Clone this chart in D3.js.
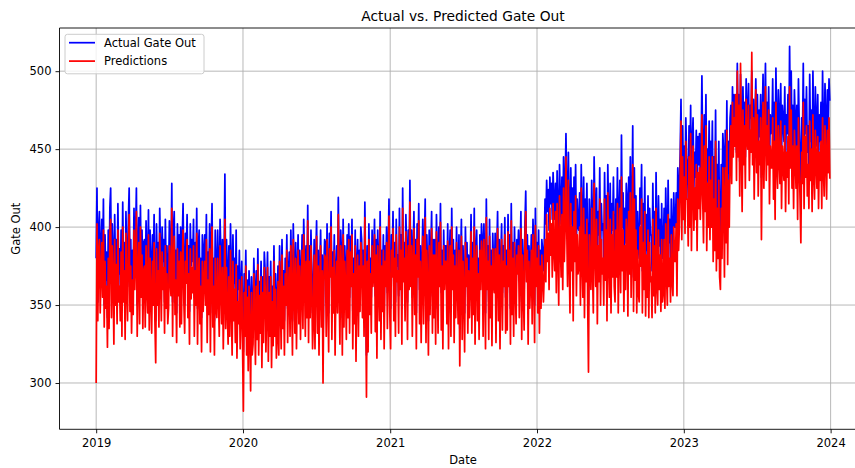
<!DOCTYPE html>
<html>
<head>
<meta charset="utf-8">
<script src="https://cdn.jsdelivr.net/npm/d3@7"></script>
<style>
  body { margin: 0; background: #fff; }
  svg { display: block; font-family: "DejaVu Sans", sans-serif; }
</style>
</head>
<body>
<svg id="chart" width="855" height="468"></svg>
<script>
// Gate out series, one value every second day starting from startDate
const startDate = "2019-01-01";
const stepDays = 2;

const actualGateOut = [
  380,425,352,398,410,361,388,405,372,418,350,395,366,384,342,
  398,358,412,425,366,402,385,348,408,375,392,355,415,370,386,
  362,398,352,416,372,390,345,410,380,362,404,425,368,392,350,
  385,365,412,378,395,425,350,388,406,360,414,372,398,356,390,
  392,358,404,380,368,411,356,398,376,350,395,372,408,362,340,
  402,372,390,355,412,384,362,400,378,392,352,405,370,388,360,
  368,404,385,375,428,352,398,410,366,385,345,402,378,395,358,
  400,360,392,415,372,350,396,382,408,364,388,346,402,375,392,
  378,405,355,390,370,412,348,386,398,360,380,342,395,368,385,
  395,372,408,350,384,366,402,345,390,415,358,380,340,398,370,
  365,398,376,352,405,384,360,392,346,378,434,358,392,370,350,
  388,355,402,372,346,395,364,380,352,398,340,375,360,385,348,
  360,378,345,320,370,352,385,340,366,330,372,355,318,368,342,
  345,380,358,336,372,350,386,340,365,355,378,332,368,348,384,
  372,342,360,384,335,368,352,378,330,362,346,388,352,370,338,
  350,375,338,388,360,345,392,356,372,340,380,362,395,348,370,
  384,352,398,366,340,402,375,355,390,345,372,395,360,385,350,
  370,395,358,405,380,352,388,365,414,350,388,365,398,372,345,
  362,392,345,380,404,356,385,340,375,398,358,382,322,375,392,
  390,355,402,368,345,396,378,410,352,384,366,395,340,372,388,
  366,419,372,350,398,382,342,405,360,388,372,350,395,365,402,
  355,394,372,405,346,380,360,398,338,376,392,352,385,368,400,
  392,365,385,352,416,372,318,388,345,402,366,380,355,398,372,
  380,405,356,392,340,398,374,362,410,350,385,368,395,345,388,
  372,400,358,385,418,366,348,395,378,410,362,390,352,405,375,
  382,356,412,370,395,348,425,375,390,362,408,385,352,398,370,
  430,372,398,355,385,410,366,392,345,402,378,415,360,388,350,
  376,405,360,388,418,350,395,372,340,398,365,385,410,356,392,
  365,392,348,408,380,356,400,372,415,358,385,345,398,370,388,
  388,362,402,345,380,398,355,412,370,392,350,385,365,400,372,
  360,395,335,378,405,352,388,368,345,400,372,390,355,382,365,
  375,408,356,390,366,412,348,385,398,362,380,350,395,370,402,
  392,355,402,378,345,418,370,388,352,405,365,385,348,396,375,
  368,396,350,385,410,362,392,345,380,402,358,388,372,406,355,
  385,358,408,372,395,348,415,366,390,355,400,375,362,392,380,
  398,365,385,410,352,392,370,358,402,423,375,395,360,388,370,
  376,395,362,405,385,350,412,372,390,368,398,355,385,370,392,
  385,372,390,418,402,430,410,424,398,432,415,428,405,435,418,
  405,428,395,436,412,388,440,418,402,432,395,445,410,425,460,
  420,395,448,410,385,438,402,425,378,432,408,440,390,418,400,
  398,422,380,440,405,390,432,372,418,395,428,385,350,418,402,
  385,430,400,375,445,412,392,425,368,410,395,438,380,415,398,
  402,378,435,395,420,365,440,408,385,428,372,415,398,432,390,
  380,418,395,438,372,410,430,385,459,400,422,375,412,390,428,
  418,375,432,398,445,385,412,465,368,438,395,420,372,410,388,
  380,425,402,440,372,415,390,432,365,408,385,420,370,412,395,
  395,372,428,385,410,360,435,392,378,420,388,405,365,415,380,
  385,412,368,425,398,375,430,390,405,372,418,395,380,422,400,
  400,422,385,438,410,425,448,482,418,465,430,452,420,470,445,
  440,418,465,430,478,412,455,470,425,448,432,462,415,458,440,
  460,432,448,497,445,420,472,438,485,415,450,430,468,422,455,
  430,468,405,445,418,475,398,440,412,455,395,385,440,412,460,
  448,400,462,420,481,410,455,435,470,478,445,490,462,485,470,
  470,448,505,460,485,442,498,468,452,490,462,480,445,495,472,
  465,492,450,478,470,500,455,482,440,470,495,458,485,448,475,
  458,485,432,470,498,445,475,505,450,480,462,490,440,472,460,
  462,495,448,480,440,502,465,452,488,470,455,492,445,478,468,
  455,490,440,472,460,485,448,516,465,500,452,478,442,488,470,
  450,478,438,495,465,445,420,470,455,505,442,482,460,490,448,
  465,440,498,455,475,432,500,460,445,490,468,452,485,438,472,
  455,480,438,500,462,448,492,470,445,488,460,495,481
];

const predictedGateOut = [
  300,402,340,385,392,345,370,390,355,398,336,378,348,362,323,
  380,335,395,405,342,388,368,325,392,350,376,338,398,352,362,
  340,384,330,400,352,372,328,396,362,340,388,408,346,375,332,
  366,344,398,360,380,410,330,370,390,338,400,355,382,335,372,
  375,336,388,362,345,395,334,380,356,332,378,350,390,340,313,
  386,350,372,336,396,366,340,384,360,374,332,388,348,370,338,
  348,388,366,356,412,330,380,394,344,366,326,386,356,378,336,
  384,338,375,398,352,332,378,364,392,342,370,325,386,354,374,
  358,388,330,372,350,396,325,368,380,338,362,320,378,346,366,
  378,350,392,326,366,344,386,320,372,400,336,362,318,380,348,
  342,380,356,330,388,364,338,374,322,355,405,335,374,348,325,
  368,330,385,350,318,378,340,360,326,376,316,352,338,366,322,
  345,368,322,282,358,330,375,318,355,308,362,332,295,358,318,
  325,370,346,312,362,328,376,318,356,332,368,310,358,326,374,
  362,320,348,374,314,358,330,368,310,352,324,378,330,360,316,
  330,365,318,378,350,322,382,335,362,318,370,350,385,326,360,
  374,330,388,355,318,392,365,332,380,322,362,385,338,375,328,
  360,385,335,395,370,330,378,342,404,326,378,342,388,362,322,
  340,382,322,370,394,332,375,318,365,388,336,372,300,365,382,
  380,330,392,358,320,386,368,400,328,374,345,385,318,362,378,
  345,408,362,325,388,372,318,395,336,378,362,328,385,342,392,
  332,384,362,395,322,370,338,388,314,366,382,330,375,346,390,
  382,342,375,330,406,362,291,378,320,392,344,370,332,388,362,
  370,395,333,382,316,388,364,340,400,328,375,346,385,322,378,
  362,390,335,375,407,345,322,385,368,399,340,380,330,395,365,
  372,332,400,360,385,325,412,365,380,340,397,375,328,388,360,
  416,362,388,330,375,399,344,382,322,392,368,404,338,378,326,
  366,394,338,378,406,326,385,362,318,388,344,375,399,332,382,
  342,382,325,397,370,332,390,362,403,334,375,322,388,360,378,
  378,338,391,322,370,388,330,400,360,382,326,375,342,390,362,
  338,385,311,368,394,328,378,358,320,390,362,380,332,372,342,
  365,397,332,380,344,400,325,375,388,340,370,328,385,360,391,
  382,330,392,368,322,406,360,378,328,394,342,375,324,386,365,
  358,386,326,375,399,340,382,322,370,392,334,378,362,395,332,
  375,334,397,362,385,325,404,344,380,330,390,365,338,382,370,
  388,342,375,399,328,382,360,334,392,410,365,385,325,378,348,
  366,385,338,395,375,326,401,362,380,345,388,332,375,348,382,
  366,352,370,392,365,408,378,396,360,412,382,402,368,415,385,
  372,410,358,415,385,350,420,390,368,408,360,425,378,400,445,
  398,362,430,380,345,415,372,400,340,410,378,420,356,395,370,
  375,400,350,425,378,355,412,342,395,365,405,352,307,395,372,
  360,412,372,345,428,385,362,405,338,388,365,418,350,392,370,
  380,350,418,366,398,340,422,380,355,405,345,395,368,410,362,
  352,398,368,415,345,385,412,358,432,372,398,346,388,360,405,
  395,343,410,370,422,355,388,440,346,418,366,398,345,385,358,
  352,400,375,418,345,390,360,410,343,382,355,398,342,390,365,
  368,342,405,356,388,345,412,362,350,398,360,382,346,392,352,
  358,392,348,402,370,350,408,362,380,352,395,366,356,400,378,
  378,402,356,418,385,400,430,468,392,445,405,432,396,455,418,
  418,388,445,400,460,385,430,452,398,425,405,440,385,435,412,
  438,405,425,472,418,390,452,410,465,385,428,400,445,392,430,
  400,445,378,418,385,455,372,412,380,430,368,360,412,380,438,
  420,368,438,390,462,376,430,400,448,465,428,480,445,470,452,
  485,430,500,445,478,420,505,452,410,475,440,465,425,482,455,
  450,478,430,462,448,512,440,470,418,460,488,435,472,420,455,
  440,470,392,455,480,425,462,490,430,465,440,475,415,452,438,
  438,470,418,455,405,480,440,425,465,445,428,468,412,452,440,
  430,465,410,448,432,458,415,490,438,475,425,452,412,462,445,
  425,452,405,470,440,418,390,448,428,480,412,458,432,465,420,
  440,412,468,430,450,410,472,435,418,462,442,425,458,412,448,
  430,455,412,470,438,420,465,445,418,462,435,470,431
];

const yearTicks = ["2019", "2020", "2021", "2022", "2023", "2024"];
const valueTicks = [300, 350, 400, 450, 500];

const seriesNames = ["Actual Gate Out", "Predictions"];
const seriesColors = ["#0000ff", "#ff0000"];

// ---- layout ----
const svg = d3.select("#chart");
const box = { left: 59.5, top: 28, right: 866.5, bottom: 429.3 };
const DAY = 864e5;
const parseDay = d3.utcParse("%Y-%m-%d");
const t0 = parseDay(startDate);
const dates = actualGateOut.map((_, i) => new Date(+t0 + i * stepDays * DAY));

// 5% padding around the data on both axes
const tExt = d3.extent(dates);
const tPad = (tExt[1] - tExt[0]) * 0.05;
const x = d3.scaleUtc()
  .domain([new Date(+tExt[0] - tPad), new Date(+tExt[1] + tPad)])
  .range([box.left, box.right]);

const vExt = d3.extent(actualGateOut.concat(predictedGateOut));
const vPad = (vExt[1] - vExt[0]) * 0.05;
const y = d3.scaleLinear()
  .domain([vExt[0] - vPad, vExt[1] + vPad])
  .range([box.bottom, box.top]);

svg.append("rect").attr("width", 855).attr("height", 468).attr("fill", "#fff");

// grid
const grid = svg.append("g").attr("stroke", "#b0b0b0").attr("stroke-width", 0.9);
const yearDates = yearTicks.map(s => parseDay(s + "-01-01"));
grid.selectAll(".gx").data(yearDates).join("line")
  .attr("x1", d => x(d)).attr("x2", d => x(d))
  .attr("y1", box.top).attr("y2", box.bottom);
grid.selectAll(".gy").data(valueTicks).join("line")
  .attr("x1", box.left).attr("x2", box.right)
  .attr("y1", d => y(d)).attr("y2", d => y(d));

// data lines
svg.append("clipPath").attr("id", "plotClip")
  .append("rect")
  .attr("x", box.left).attr("y", box.top)
  .attr("width", box.right - box.left).attr("height", box.bottom - box.top);

const line = d3.line().x((d, i) => x(dates[i])).y(d => y(d));
const plotArea = svg.append("g").attr("clip-path", "url(#plotClip)");
[actualGateOut, predictedGateOut].forEach((vals, k) => {
  plotArea.append("path")
    .attr("d", line(vals))
    .attr("fill", "none")
    .attr("stroke", seriesColors[k])
    .attr("stroke-width", 1.73)
    .attr("stroke-linejoin", "round");
});

// axes
const xAxis = d3.axisBottom(x)
  .tickValues(yearDates)
  .tickFormat(d3.utcFormat("%Y"))
  .tickSize(4).tickSizeOuter(0).tickPadding(6);
const yAxis = d3.axisLeft(y)
  .tickValues(valueTicks)
  .tickSize(4).tickSizeOuter(0).tickPadding(4);

const gx = svg.append("g").attr("transform", `translate(0,${box.bottom})`).call(xAxis);
const gy = svg.append("g").attr("transform", `translate(${box.left},0)`).call(yAxis);
[gx, gy].forEach(g => {
  g.select(".domain").remove();
  g.selectAll(".tick line").attr("stroke", "#000").attr("stroke-width", 0.9);
  g.selectAll(".tick text")
    .attr("fill", "#000")
    .style("font-family", "DejaVu Sans, sans-serif")
    .style("font-size", "11.5px");
});

// spines
const spines = svg.append("g").attr("stroke", "#000").attr("stroke-width", 0.9).attr("fill", "none");
spines.append("line").attr("x1", box.left).attr("x2", box.left).attr("y1", box.top).attr("y2", box.bottom);
spines.append("line").attr("x1", box.left).attr("x2", box.right).attr("y1", box.top).attr("y2", box.top);
spines.append("line").attr("x1", box.left).attr("x2", box.right).attr("y1", box.bottom).attr("y2", box.bottom);

// titles
const midX = (box.left + box.right) / 2;
svg.append("text").attr("x", midX).attr("y", 20.5)
  .attr("text-anchor", "middle").attr("font-size", "13.8px").attr("fill", "#000")
  .text("Actual vs. Predicted Gate Out");
svg.append("text").attr("x", midX).attr("y", 464)
  .attr("text-anchor", "middle").attr("font-size", "11.5px").attr("fill", "#000")
  .text("Date");
svg.append("text")
  .attr("transform", `translate(20,${(box.top + box.bottom) / 2}) rotate(-90)`)
  .attr("text-anchor", "middle").attr("font-size", "11.5px").attr("fill", "#000")
  .text("Gate Out");

// legend
const legend = svg.append("g");
legend.append("rect")
  .attr("x", 65).attr("y", 34.3).attr("width", 139).attr("height", 39.5)
  .attr("rx", 2.5)
  .attr("fill", "#fff").attr("fill-opacity", 0.8)
  .attr("stroke", "#cccccc").attr("stroke-width", 1);
seriesNames.forEach((name, k) => {
  const ly = 42.7 + k * 18.4;
  legend.append("line")
    .attr("x1", 69).attr("x2", 95).attr("y1", ly).attr("y2", ly)
    .attr("stroke", seriesColors[k]).attr("stroke-width", 1.73);
  legend.append("text")
    .attr("x", 104).attr("y", ly + 4.2)
    .attr("font-size", "11.5px").attr("fill", "#000")
    .text(name);
});
</script>
</body>
</html>
